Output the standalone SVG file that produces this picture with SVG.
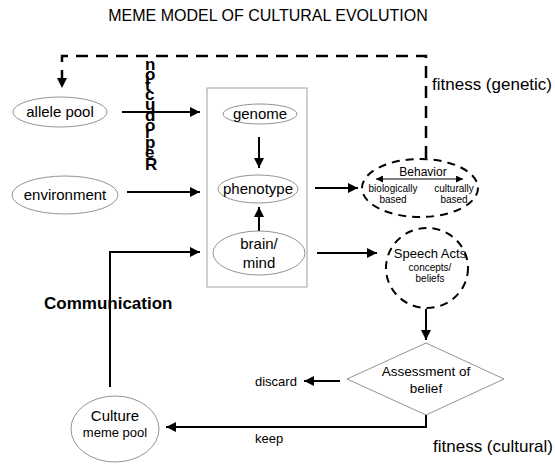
<svg xmlns="http://www.w3.org/2000/svg" width="555" height="464" viewBox="0 0 555 464">
<defs>
<marker id="ah" viewBox="0 0 10 10" refX="10" refY="5" markerWidth="10" markerHeight="10" markerUnits="userSpaceOnUse" orient="auto"><path d="M0,0 L10,5 L0,10 Z" fill="#000"/></marker>
<marker id="ahs" viewBox="0 0 10 10" refX="10" refY="5" markerWidth="7" markerHeight="7" markerUnits="userSpaceOnUse" orient="auto-start-reverse"><path d="M0,0 L10,5 L0,10 Z" fill="#000"/></marker>
</defs>
<style>
text{font-family:"Liberation Sans",Arial,sans-serif;fill:#000}
.n{fill:#fff;stroke:#777;stroke-width:0.8}
.d{fill:none;stroke:#000;stroke-width:2;stroke-dasharray:8 6}
.c{fill:none;stroke:#000;stroke-width:2}
.t{font-size:15px;text-anchor:middle}
.s{font-size:10px;text-anchor:middle}
</style>
<rect width="555" height="464" fill="#fff"/>
<text x="268" y="21" font-size="16" text-anchor="middle">MEME MODEL OF CULTURAL EVOLUTION</text>
<g id="box"><rect x="207" y="88" width="100" height="199" fill="none" stroke="#888" stroke-width="0.8"/></g>
<g id="connectors">
<path class="c" d="M122,112 H200" marker-end="url(#ah)"/>
<path class="c" d="M127,192 H200" marker-end="url(#ah)"/>
<path class="c" d="M259,137 V168" marker-end="url(#ah)"/>
<path class="c" d="M259,233 V207" marker-end="url(#ah)"/>
<path class="c" d="M315,188 H358" marker-end="url(#ah)"/>
<path class="c" d="M317,253 H377" marker-end="url(#ah)"/>
<path class="c" d="M426,309 V340" marker-end="url(#ah)"/>
<path class="c" d="M340,381 H304" marker-end="url(#ah)"/>
<path class="c" d="M426,415 V427 H166" marker-end="url(#ah)"/>
<path class="c" d="M110,387 V252 H200" marker-end="url(#ah)"/>
<path fill="none" stroke="#000" stroke-width="2.5" stroke-dasharray="12 8" d="M426,158 V56 H62 V78"/>
<path d="M57,78 L67,78 L62,88 Z" fill="#000"/>
</g>
<g id="allele"><ellipse class="n" cx="60" cy="112" rx="47" ry="15"/><text class="t" x="60" y="117">allele pool</text></g>
<g id="environment"><ellipse class="n" cx="65" cy="195" rx="53" ry="19"/><text class="t" x="65" y="200">environment</text></g>
<g id="genome"><ellipse class="n" cx="260" cy="114" rx="37" ry="10"/><text class="t" x="260" y="119">genome</text></g>
<g id="phenotype"><ellipse class="n" cx="258" cy="189" rx="40" ry="14"/><text class="t" x="258" y="194">phenotype</text></g>
<g id="brain"><ellipse class="n" cx="259" cy="253" rx="46" ry="22"/><text class="t" x="259" y="249">brain/</text><text class="t" x="259" y="268">mind</text></g>
<g id="behavior"><ellipse class="d" cx="420" cy="188" rx="58" ry="29"/><text x="423" y="176" font-size="12" text-anchor="middle">Behavior</text>
<path fill="none" stroke="#000" stroke-width="1.2" d="M376,179 H463" marker-start="url(#ahs)" marker-end="url(#ahs)"/>
<text class="s" x="393" y="192">biologically</text><text class="s" x="393" y="203">based</text>
<text class="s" x="454" y="192">culturally</text><text class="s" x="454" y="203">based</text></g>
<g id="speech"><ellipse class="d" cx="427" cy="268" rx="41" ry="40"/><text x="430" y="258" font-size="13" text-anchor="middle">Speech Acts</text><text class="s" x="430" y="271">concepts/</text><text class="s" x="430" y="282">beliefs</text></g>
<g id="assessment"><path class="n" d="M426,343 L504,379 L426,415 L347,379 Z"/><text x="426" y="376" font-size="13.5" text-anchor="middle">Assessment of</text><text x="426" y="393" font-size="13.5" text-anchor="middle">belief</text></g>
<g id="culture"><ellipse class="n" cx="115" cy="429" rx="44" ry="33"/><text class="t" x="115" y="421">Culture</text><text x="115" y="437" font-size="13" text-anchor="middle">meme pool</text></g>
<text x="255" y="386" font-size="13">discard</text>
<text x="255" y="443" font-size="13">keep</text>
<text x="432" y="90" font-size="17">fitness (genetic)</text>
<text x="433" y="452" font-size="17">fitness (cultural)</text>
<text x="44" y="309" font-size="17" font-weight="bold">Communication</text>
<text transform="translate(145,170) rotate(-90)" rotate="90" font-size="17" font-weight="bold">Reproduction</text>
</svg>
